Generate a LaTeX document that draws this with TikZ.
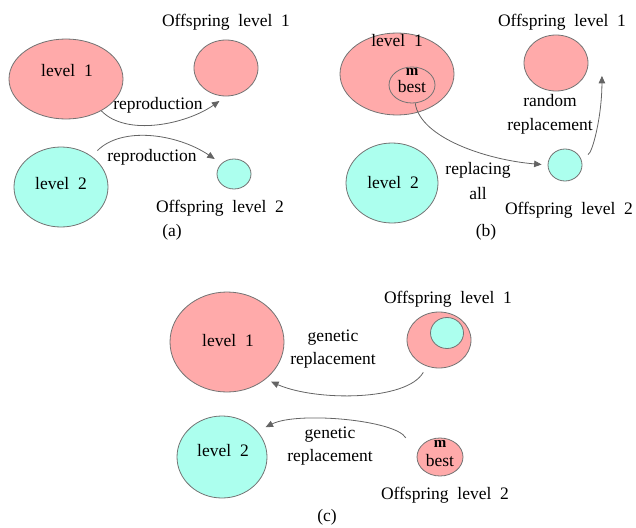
\documentclass[tikz,border=0pt]{standalone}
\usepackage{fontspec}
\setmainfont{Liberation Serif}
\usetikzlibrary{shapes.geometric,arrows.meta}
\definecolor{popred}{RGB}{255,170,170}
\definecolor{popcyan}{RGB}{172,255,238}
\definecolor{rim}{RGB}{115,115,115}
\definecolor{flow}{RGB}{100,100,100}
\begin{document}
\begin{tikzpicture}[x=1pt,y=-1pt,
  pop/.style={ellipse,draw=rim,line width=0.8pt,inner sep=0pt},
  redpop/.style={pop,fill=popred},
  cyanpop/.style={pop,fill=popcyan},
  txt/.style={inner sep=0pt,text height=12pt,text depth=0pt,font=\fontsize{17.5}{21}\selectfont},
  bestm/.style={inner sep=0pt,anchor=base,font=\fontsize{15}{15}\selectfont\bfseries},
  arr/.style={draw=flow,line width=0.8pt,-{Triangle[length=7.5pt,width=6.5pt]}}
]
\useasboundingbox (0,0) rectangle (636,527);

% ---------- (a) reproduction ----------
\node[redpop,minimum width=114pt,minimum height=80pt] (lvA1) at (66,79) {};
\node[redpop,minimum width=64pt,minimum height=56pt] (offA1) at (226,68) {};
\node[cyanpop,minimum width=94pt,minimum height=80pt] (lvA2) at (61,187) {};
\node[cyanpop,minimum width=34pt,minimum height=30pt] (offA2) at (234,174) {};
\node[txt] (tA1) at (67,70) {level~~1};
\node[txt] (tA2) at (61,183) {level~~2};
\node[txt] (tAo1) at (226,21) {Offspring~~level~~1};
\node[txt] (tAo2) at (220,206) {Offspring~~level~~2};
\node[txt] (tAr1) at (158,103) {reproduction};
\node[txt] (tAr2) at (152,155) {reproduction};
\node[txt] (capA) at (172,230) {(a)};
\draw[arr,shorten >=8pt] (lvA1.-42) .. controls +(25,26) and +(-40,28) .. (offA1.-90);
\draw[arr,shorten <=8pt,shorten >=8pt] (lvA2.45) .. controls +(30,-30) and +(-45,-30) .. (offA2.140);

% ---------- (b) random replacement ----------
\node[redpop,minimum width=114pt,minimum height=82pt] (lvB1) at (397,74) {};
\node[redpop,minimum width=46pt,minimum height=36pt] (mbB) at (412,85) {};
\node[redpop,minimum width=64pt,minimum height=56pt] (offB1) at (556,63) {};
\node[cyanpop,minimum width=92pt,minimum height=80pt] (lvB2) at (392,183) {};
\node[cyanpop,minimum width=34pt,minimum height=32pt] (offB2) at (565,165) {};
\node[txt] (tB1) at (397,40) {level~~1};
\node[bestm] (tBm) at (412,75) {m};
\node[txt] (tBb) at (412,86) {best};
\node[txt] (tB2) at (393,182) {level~~2};
\node[txt] (tBo1) at (562,21) {Offspring~~level~~1};
\node[txt] (tBo2) at (569,208) {Offspring~~level~~2};
\node[txt] (tBr1) at (550,100) {random};
\node[txt] (tBr2) at (550,124) {replacement};
\node[txt] (tBa1) at (478,168) {replacing};
\node[txt] (tBa2) at (478,193) {all};
\node[txt] (capB) at (486,230) {(b)};
\draw[arr,shorten >=6pt] (mbB.-80) .. controls +(5,35) and +(-60,-5) .. (offB2.west);
\draw[arr,shorten <=8pt] (offB2.25) .. controls +(12,-5) and +(0,40) .. ([shift={(16,2)}]offB1.-20);

% ---------- (c) genetic replacement ----------
\node[redpop,minimum width=114pt,minimum height=100pt] (lvC1) at (227,342) {};
\node[redpop,minimum width=64pt,minimum height=56pt] (offC1) at (439,340) {};
\node[cyanpop,minimum width=33pt,minimum height=31pt] (inC1) at (447,333) {};
\node[cyanpop,minimum width=90pt,minimum height=82pt] (lvC2) at (222,457) {};
\node[redpop,minimum width=46pt,minimum height=38pt] (mbC) at (440,457) {};
\node[txt] (tC1) at (228,340) {level~~1};
\node[txt] (tC2) at (223,450) {level~~2};
\node[txt] (tCo1) at (448,297) {Offspring~~level~~1};
\node[txt] (tCo2) at (445,493) {Offspring~~level~~2};
\node[bestm] (tCm) at (440,447) {m};
\node[txt] (tCb) at (440,460) {best};
\node[txt] (tCg1) at (333,335) {genetic};
\node[txt] (tCg2) at (333,358) {replacement};
\node[txt] (tCh1) at (330,432) {genetic};
\node[txt] (tCh2) at (330,455) {replacement};
\node[txt] (capC) at (327,515) {(c)};
\draw[arr,shorten <=7pt,shorten >=6pt] (offC1.-115) .. controls +(-20,35) and +(50,22) .. (lvC1.-44);
\draw[arr,shorten >=9pt] ([shift={(-15,-8)}]mbC.150) .. controls +(-10,-18) and +(40,-20) .. (lvC2.36);
\end{tikzpicture}
\end{document}
